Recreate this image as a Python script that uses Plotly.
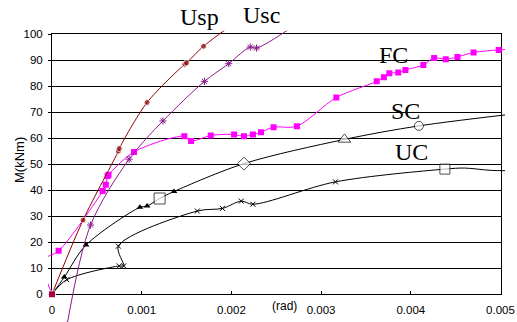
import plotly.graph_objects as go

# ---------------- data ----------------
usp_x = [0, 0.000346, 0.00074, 0.00075, 0.00106, 0.00148, 0.0015, 0.00169, 0.00215]
usp_y = [0, 28.5, 55.0, 56.0, 73.7, 88.4, 88.9, 95.3, 107.0]

usc_x = [0.000168, 0.00043, 0.00086, 0.001237, 0.0017, 0.00197, 0.00221, 0.00228, 0.0029]
usc_y = [-11.8, 26.6, 51.9, 66.6, 81.8, 88.6, 95.0, 94.6, 108.0]

fc_x = [0, -0.0001, 0.000074, 0.000565, 0.0006, 0.00062, 0.00063, 0.000914, 0.001475,
        0.00155, 0.00177, 0.00203, 0.00214, 0.00224, 0.00233, 0.00247, 0.00273, 0.00317,
        0.00362, 0.0037, 0.00376, 0.00386, 0.00394, 0.00414, 0.00426, 0.00439, 0.00452,
        0.0047, 0.00498, 0.0053]
fc_y = [0, 13.0, 16.7, 39.7, 42.1, 45.4, 45.9, 54.7, 60.7,
        58.9, 61.0, 61.4, 60.7, 61.4, 62.3, 64.2, 64.6, 75.6,
        81.8, 83.4, 84.9, 85.2, 86.2, 88.1, 90.8, 90.3, 91.2,
        92.9, 93.9, 94.6]

sc_x = [0, 0.000137, 0.000379, 0.00098, 0.00106, 0.0012, 0.00136, 0.00214, 0.00326, 0.00409, 0.0053]
sc_y = [0, 6.6, 18.9, 33.4, 33.9, 36.8, 39.5, 50.2, 59.5, 64.7, 69.9]
sc_marked = [False, True, True, True, True, False, True, False, False, False, False]

uc_x = [0, 0.000164, 0.00075, 0.0008, 0.00074, 0.00162, 0.0019, 0.00211, 0.00224, 0.00316,
        0.00438, 0.0046, 0.0049, 0.0053]
uc_y = [0, 5.6, 10.9, 10.9, 18.5, 32.0, 33.0, 35.8, 34.6, 43.2,
        48.1, 48.5, 47.6, 47.5]
uc_marked = [False, True, True, True, True, True, True, True, True, True,
             False, False, False, False]

# special (event) points
event_x = [0.0012, 0.00214, 0.00326, 0.00409, 0.00438]
event_y = [36.8, 50.2, 59.5, 64.7, 48.1]
event_symbol = ["square", "diamond", "triangle-up", "circle", "square"]
event_size = [11, 10, 11, 9, 10]

x_ticks = [0, 0.001, 0.002, 0.003, 0.004, 0.005]
y_ticks = [0, 10, 20, 30, 40, 50, 60, 70, 80, 90, 100]

labels = ["Usp", "Usc", "FC", "SC", "UC"]

# ---------------- geometry (pixels) ----------------
W, H = 517, 322
FX0, FX1 = 52.0, 500.5          # x of 0 and 0.005
FY_TOP, FY_BOT = 34.0, 294.3    # y of 100 and 0
CLIP_X0, CLIP_X1, CLIP_TOP = 48.0, 505.0, 30.7
XMAX, YMAX = 0.005, 100.0
sx = (FX1 - FX0) / XMAX
sy = (FY_BOT - FY_TOP) / YMAX

def dx(px):
    return (px - FX0) / sx

def dy(py):
    return (FY_BOT - py) / sy

DARKRED = "#8B0000"
PURPLE = "#8B1C8B"
MAGENTA = "#FF00FF"
BLACK = "#000000"

fig = go.Figure()
# empty trace to create the framed subplot
fig.add_trace(go.Scatter(x=[], y=[], xaxis="x", yaxis="y", showlegend=False))

def line(x, y, color):
    fig.add_trace(go.Scatter(x=x, y=y, mode="lines", xaxis="x2", yaxis="y2",
                             line=dict(color=color, width=1, shape="spline", smoothing=0.9),
                             showlegend=False, hoverinfo="skip"))

def marks(x, y, **mk):
    fig.add_trace(go.Scatter(x=x, y=y, mode="markers", xaxis="x2", yaxis="y2",
                             marker=mk, showlegend=False, hoverinfo="skip"))

# UC
line(uc_x, uc_y, BLACK)
marks([a for a, m in zip(uc_x, uc_marked) if m], [b for b, m in zip(uc_y, uc_marked) if m],
      symbol="x-thin-open", size=5, color=BLACK, line=dict(color=BLACK, width=1))
# SC
line(sc_x, sc_y, BLACK)
marks([a for a, m in zip(sc_x, sc_marked) if m], [b for b, m in zip(sc_y, sc_marked) if m],
      symbol="triangle-up", size=6, color=BLACK)
# events
marks(event_x, event_y, symbol=event_symbol, size=event_size, color="white",
      line=dict(color=BLACK, width=1))
# FC
line(fc_x, fc_y, MAGENTA)
marks(fc_x, fc_y, symbol="square", size=6, color=MAGENTA)
# Usc
line(usc_x, usc_y, PURPLE)
marks(usc_x, usc_y, symbol="asterisk-open", size=6, color=PURPLE, line=dict(color=PURPLE, width=1))
# Usp
line(usp_x, usp_y, DARKRED)
marks(usp_x, usp_y, symbol=["square"] + ["circle"] * (len(usp_x) - 1),
      size=[7] + [6] * (len(usp_x) - 1), color=DARKRED)

tickfont = dict(family="Liberation Sans, Arial, sans-serif", size=11.5, color=BLACK)

fig.update_layout(
    template="none",
    width=W, height=H, autosize=False,
    margin=dict(l=0, r=0, t=0, b=0, pad=0),
    paper_bgcolor="white", plot_bgcolor="rgba(0,0,0,0)",
    xaxis=dict(domain=[FX0 / W, FX1 / W], range=[0, XMAX], tickvals=x_ticks,
               ticktext=["0" if v == 0 else f"{v:g}" for v in x_ticks],
               showgrid=False, zeroline=False, showline=True, linecolor=BLACK, linewidth=1,
               mirror=True, ticks="inside", ticklen=3, tickcolor=BLACK,
               tickfont=tickfont, ticklabelstandoff=5, anchor="y", automargin=False),
    yaxis=dict(domain=[1 - FY_BOT / H, 1 - FY_TOP / H], range=[0, YMAX], tickvals=y_ticks,
               showgrid=True, gridcolor=BLACK, gridwidth=1, zeroline=False,
               showline=True, linecolor=BLACK, linewidth=1, mirror=True,
               ticks="outside", ticklen=3, tickcolor=BLACK, tickfont=tickfont,
               ticklabelstandoff=3, anchor="x", automargin=False),
    xaxis2=dict(domain=[CLIP_X0 / W, CLIP_X1 / W], range=[dx(CLIP_X0), dx(CLIP_X1)],
                visible=False, anchor="y2", automargin=False),
    yaxis2=dict(domain=[0, 1 - CLIP_TOP / H], range=[dy(H), dy(CLIP_TOP)],
                visible=False, anchor="x2", automargin=False),
)

serif = dict(family="Liberation Serif, Times New Roman, serif", size=24, color=BLACK)
label_pos = [(199, 17), (261.5, 15), (393, 55), (405, 111), (411.5, 152)]
for txt, (px, py) in zip(labels, label_pos):
    fig.add_annotation(text=txt, x=px / W, y=1 - py / H, xref="paper", yref="paper",
                       xanchor="center", yanchor="middle", showarrow=False, font=serif)

fig.add_annotation(text="M(kNm)", x=19 / W, y=1 - 160 / H, xref="paper", yref="paper",
                   textangle=-90, showarrow=False, xanchor="center", yanchor="middle",
                   font=dict(family="Liberation Sans, Arial, sans-serif", size=13, color=BLACK))
fig.add_annotation(text="(rad)", x=284 / W, y=1 - 306 / H, xref="paper", yref="paper",
                   showarrow=False, xanchor="center", yanchor="middle",
                   font=dict(family="Liberation Sans, Arial, sans-serif", size=12, color=BLACK))

fig.write_html("out.html")
